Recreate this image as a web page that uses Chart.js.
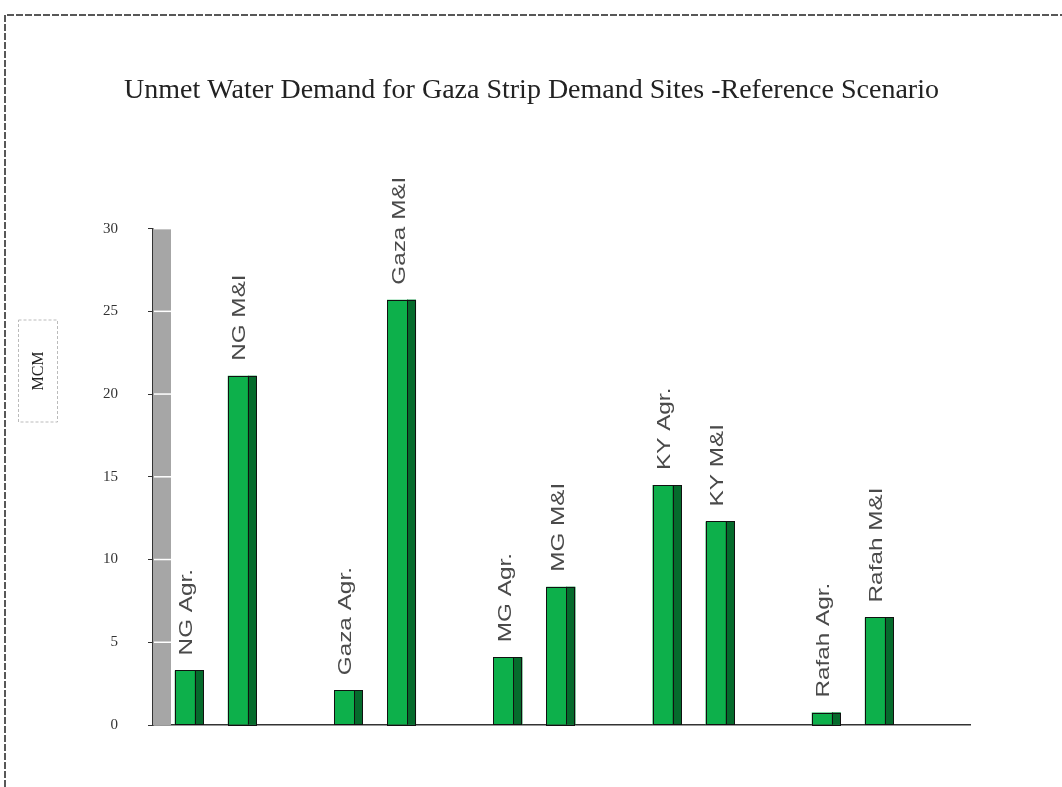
<!DOCTYPE html>
<html>
<head>
<meta charset="utf-8">
<script src="https://cdn.jsdelivr.net/npm/chart.js@4/dist/chart.umd.min.js"></script>
<style>
  html, body { margin: 0; padding: 0; background: #fff; }
  #wrap { width: 1062px; height: 787px; }
</style>
</head>
<body>
<div id="wrap"><canvas id="myChart" width="1062" height="787"></canvas></div>
<script>
//////////////////////////////////// INPUTS

// demand sites (one group each), two uses per site
var sites = ['NG', 'Gaza', 'MG', 'KY', 'Rafah'];
var agrLabel = 'Agr.';
var miLabel = 'M&I';

// unmet demand, MCM
var agrDemand = [3.3, 2.1, 4.1, 14.5, 0.75];
var miDemand = [21.1, 25.7, 8.35, 12.3, 6.5];

// y axis
var yTicks = [0, 5, 10, 15, 20, 25, 30];
var yLabel = 'MCM';
var titleText = 'Unmet Water Demand for Gaza Strip Demand Sites -Reference Scenario';

var frontGreen = '#0db04b';
var sideGreen = '#056b2c';

//////////////////////////////////// Setup Chart

function toPoints(values) {
    return values.map(function (v, i) { return { x: i, y: v }; });
}

// page frame, gray back wall and the y title box
var backdrop = {
    id: 'backdrop',
    beforeDraw(chart) {
        const ctx = chart.ctx;
        ctx.save();
        ctx.strokeStyle = '#222';
        ctx.lineWidth = 1.5;
        ctx.setLineDash([7, 2]);
        ctx.beginPath();
        ctx.moveTo(5, 787);
        ctx.lineTo(5, 15);
        ctx.lineTo(1062, 15);
        ctx.stroke();
        ctx.restore();
    },
    beforeDatasetsDraw(chart) {
        const { ctx, chartArea, scales } = chart;
        ctx.save();
        ctx.fillStyle = '#a6a6a6';
        ctx.fillRect(chartArea.left, chartArea.top, 18, chartArea.bottom - chartArea.top);
        // white grid marks across the wall
        ctx.strokeStyle = '#fff';
        ctx.lineWidth = 1.5;
        yTicks.forEach(function (t) {
            if (t === 0) return;
            const y = scales.y.getPixelForValue(t);
            ctx.beginPath();
            ctx.moveTo(chartArea.left + 1, y);
            ctx.lineTo(chartArea.left + 18, y);
            ctx.stroke();
        });
        ctx.restore();
    },
    afterDraw(chart) {
        const ctx = chart.ctx;
        const cy = 371;
        ctx.save();
        ctx.strokeStyle = '#bbb';
        ctx.lineWidth = 1;
        ctx.setLineDash([3, 2]);
        ctx.strokeRect(18.5, cy - 51, 39, 102);
        ctx.setLineDash([]);
        ctx.translate(38, cy);
        ctx.rotate(-Math.PI / 2);
        ctx.fillStyle = '#222';
        ctx.font = '16px "Liberation Serif"';
        ctx.textAlign = 'center';
        ctx.textBaseline = 'middle';
        ctx.fillText(yLabel, 0, 1);
        ctx.restore();
    }
};

// 3D side of each bar plus the vertical name above it
var barDecor = {
    id: 'barDecor',
    afterDatasetsDraw(chart) {
        const ctx = chart.ctx;
        chart.data.datasets.forEach(function (ds, di) {
            const meta = chart.getDatasetMeta(di);
            meta.data.forEach(function (bar, i) {
                const left = bar.x - bar.width / 2;
                const right = bar.x + bar.width / 2;
                const top = bar.y, bottom = bar.base;
                ctx.save();
                ctx.fillStyle = sideGreen;
                ctx.fillRect(right - 9, top, 9, bottom - top);
                ctx.strokeStyle = '#111';
                ctx.lineWidth = 1;
                ctx.strokeRect(Math.round(left) + 0.5, Math.round(top) + 0.5, Math.round(bar.width) - 1, Math.round(bottom - top));
                ctx.beginPath();
                ctx.moveTo(Math.round(right - 9) + 0.5, top);
                ctx.lineTo(Math.round(right - 9) + 0.5, bottom);
                ctx.stroke();

                const name = sites[i] + ' ' + ds.label;
                ctx.translate(bar.x + 3, top - 15);
                ctx.rotate(-Math.PI / 2);
                ctx.scale(1.28, 1);
                ctx.font = '19px "Liberation Sans"';
                ctx.fillStyle = '#4a4a4a';
                ctx.textAlign = 'left';
                ctx.textBaseline = 'alphabetic';
                ctx.fillText(name, 0, 0);
                ctx.restore();
            });
        });
    }
};

const data = {
    datasets: [
        {
            label: agrLabel,
            data: toPoints(agrDemand),
            backgroundColor: frontGreen,
            borderWidth: 0,
        },
        {
            label: miLabel,
            data: toPoints(miDemand),
            backgroundColor: frontGreen,
            borderWidth: 0,
        },
    ],
};

const config = {
    type: 'bar',
    data,
    options: {
        responsive: false,
        animation: false,
        categoryPercentage: 0.666,
        barPercentage: 0.547,
        layout: {
            padding: { left: 93, right: 92, top: 0, bottom: 62 }
        },
        scales: {
            x: {
                type: 'linear',
                min: -0.394,
                max: 4.736,
                offset: false,
                // one tick per site so the bar ruler uses the site spacing
                afterBuildTicks(scale) {
                    scale.ticks = sites.map(function (s, i) { return { value: i }; });
                },
                ticks: { display: false },
                grid: { display: true, drawOnChartArea: false, drawTicks: false },
                border: { display: true, color: '#333', width: 1.5, dash: [2, 2] },
                afterFit(scale) { scale.height = 0; }
            },
            y: {
                min: 0,
                max: 30,
                afterBuildTicks(scale) {
                    scale.ticks = yTicks.map(function (v) { return { value: v }; });
                },
                ticks: {
                    padding: 30,
                    color: '#333',
                    font: { family: '"Liberation Serif"', size: 15 }
                },
                grid: { drawOnChartArea: false, drawTicks: true, tickLength: 5, color: '#333' },
                border: { display: true, color: '#333', width: 1.5, dash: [2, 2] },
                afterFit(scale) { scale.width = 60; }
            }
        },
        plugins: {
            legend: { display: false },
            tooltip: { enabled: false },
            title: {
                display: true,
                text: titleText,
                color: '#222',
                font: { family: '"Liberation Serif"', size: 28, weight: 'normal' },
                padding: { top: 74, bottom: 121 }
            }
        }
    },
    plugins: [backdrop, barDecor]
};

var myChart = new Chart(document.getElementById('myChart'), config);
</script>
</body>
</html>
